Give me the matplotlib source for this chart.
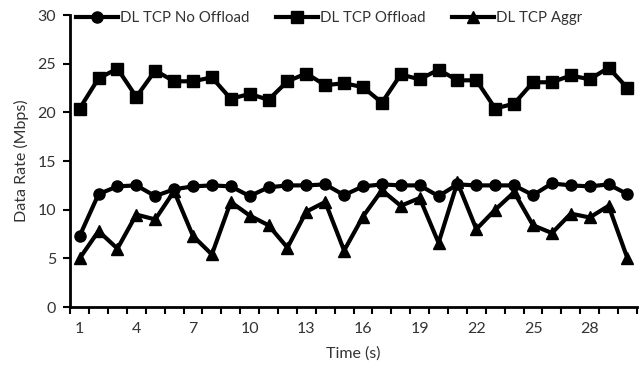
import matplotlib
matplotlib.use("Agg")
import matplotlib.pyplot as plt
import numpy as np

plt.rcParams['font.family'] = ['Lato', 'DejaVu Sans']

# time in seconds
time_s = list(range(1, 31))

no_offload = [7.3, 11.6, 12.4, 12.5, 11.4, 12.1, 12.4, 12.5, 12.4, 11.4,
              12.3, 12.5, 12.5, 12.6, 11.5, 12.4, 12.6, 12.5, 12.5, 11.4,
              12.6, 12.5, 12.5, 12.5, 11.5, 12.7, 12.5, 12.4, 12.6, 11.6]
offload = [20.4, 23.5, 24.5, 21.6, 24.3, 23.2, 23.2, 23.6, 21.4, 21.9,
           21.3, 23.2, 24.0, 22.8, 23.0, 22.6, 21.0, 23.9, 23.4, 24.4,
           23.3, 23.3, 20.4, 20.9, 23.1, 23.1, 23.8, 23.4, 24.6, 22.5]
aggr = [5.0, 7.8, 6.0, 9.5, 9.0, 11.9, 7.3, 5.4, 10.8, 9.4,
        8.4, 6.1, 9.8, 10.8, 5.8, 9.3, 12.0, 10.4, 11.2, 6.6,
        12.8, 8.0, 10.0, 11.8, 8.4, 7.6, 9.6, 9.2, 10.4, 5.0]

series = [("DL TCP No Offload", no_offload, "o", 8),
          ("DL TCP Offload", offload, "s", 8),
          ("DL TCP Aggr", aggr, "^", 8)]

fig = plt.figure(figsize=(6.44, 3.69), dpi=100)
ax = fig.add_axes([0.109, 0.168, 0.880, 0.791])

for name, vals, mk, ms in series:
    ax.plot(time_s, vals, color="black", lw=3, marker=mk, ms=ms, label=name)

ax.set_xlim(0.5, 30.5)
ax.set_ylim(0, 30)
ax.set_yticks(range(0, 31, 5))
ax.set_xticks(np.arange(0.5, 31, 1))
ax.set_xticklabels([])
ax.set_xticks(time_s[::3], minor=True)
ax.set_xticklabels([str(t) for t in time_s[::3]], minor=True)
ax.tick_params(axis='x', which='minor', length=0, pad=11, labelsize=11.5, colors="#333333")
ax.tick_params(axis='x', which='major', length=5, width=1.5, direction='out')
ax.tick_params(axis='y', length=5, width=1.5, labelsize=11.5, labelcolor="#333333", pad=5)

for s in ["top", "right"]:
    ax.spines[s].set_visible(False)
for s in ["left", "bottom"]:
    ax.spines[s].set_linewidth(2)

ax.set_xlabel("Time (s)", fontsize=11.5, color="#333333", labelpad=7)
ax.set_ylabel("Data Rate (Mbps)", fontsize=11.5, color="#333333", labelpad=6)

leg = ax.legend(loc="center", ncol=3, frameon=False, fontsize=10.8, handlelength=2.8,
                handletextpad=0.1, columnspacing=1.8, bbox_to_anchor=(0.457, 0.99),
                labelcolor="#333333")

fig.savefig("out.png", dpi=100)
